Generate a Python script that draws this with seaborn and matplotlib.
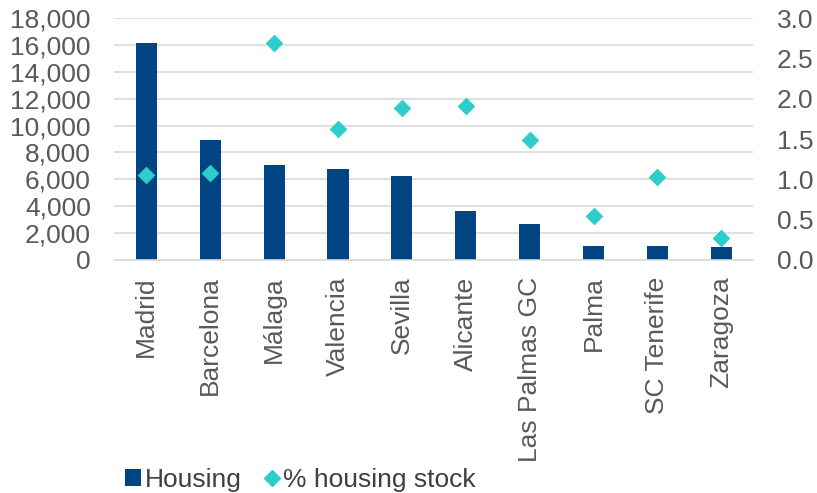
import numpy as np
import pandas as pd
import matplotlib
matplotlib.use('Agg')
import matplotlib.pyplot as plt
from matplotlib.lines import Line2D
from matplotlib.patches import Patch
import seaborn as sns

cities = ['Madrid', 'Barcelona', 'Málaga', 'Valencia', 'Sevilla', 'Alicante',
          'Las Palmas GC', 'Palma', 'SC Tenerife', 'Zaragoza']
housing = [16150, 8900, 7080, 6780, 6220, 3640, 2680, 1060, 1060, 960]
pct_stock = [1.05, 1.08, 2.69, 1.62, 1.88, 1.91, 1.49, 0.54, 1.03, 0.27]

df = pd.DataFrame({'city': cities, 'housing': housing, 'pct': pct_stock})

bar_color = '#004481'
dot_color = '#2DCCCD'
text_color = '#595959'
legend_text = '#3A3F4A'
grid_color = '#D9D9D9'
fsize = 19

sns.set_style('white')
plt.rcParams['font.family'] = ['Liberation Sans', 'DejaVu Sans']

fig, ax = plt.subplots(figsize=(8.17, 4.93), dpi=100)
fig.subplots_adjust(left=0.14, right=0.922, top=0.963, bottom=0.473)

sns.barplot(data=df, x='city', y='housing', color=bar_color, width=0.33,
            saturation=1, linewidth=0, ax=ax, zorder=2)
ax.set_ylim(0, 18000)
ax.set_yticks(np.arange(0, 18001, 2000))
ax.set_yticklabels([f'{v:,}' for v in range(0, 18001, 2000)])
ax.yaxis.grid(True, color=grid_color, linewidth=1.2, zorder=0)
ax.set_axisbelow(True)
ax.set_xlim(-0.5, len(cities) - 0.5)
ax.set_xlabel('')
ax.set_ylabel('')

ax2 = ax.twinx()
sns.stripplot(data=df, x='city', y='pct', color=dot_color, marker='D', size=9,
              jitter=False, ax=ax2, zorder=3)
ax2.set_ylim(0, 3.0)
ax2.set_yticks(np.arange(0, 3.01, 0.5))
ax2.set_yticklabels([f'{v:.1f}' for v in np.arange(0, 3.01, 0.5)])
ax2.set_xlim(-0.5, len(cities) - 0.5)
ax2.set_ylabel('')
ax2.set_xlabel('')

for a in (ax, ax2):
    for s in ('top', 'left', 'right'):
        a.spines[s].set_visible(False)
    a.spines['bottom'].set_color(grid_color)
    a.spines['bottom'].set_linewidth(1.2)
    a.tick_params(axis='y', length=0, labelsize=fsize, labelcolor=text_color)

ax.tick_params(axis='y', pad=17)
ax2.tick_params(axis='y', pad=17)
ax2.spines['bottom'].set_visible(False)

ax.set_xticks(range(len(cities)))
ax.set_xticklabels(cities, rotation=90, fontsize=fsize, color=text_color)
ax.tick_params(axis='x', which='major', length=0, pad=12)
ax.set_xticks(np.arange(-0.5, len(cities), 1.0), minor=True)
ax.tick_params(axis='x', which='minor', length=8, color=grid_color, width=1.2)

handles = [Patch(facecolor=bar_color, edgecolor='none', label='Housing'),
           Line2D([], [], marker='D', color=dot_color, linestyle='none',
                  markersize=8, label='% housing stock')]
leg = fig.legend(handles=handles, loc='center left', bbox_to_anchor=(0.153, 0.027),
                 ncol=2, frameon=False, fontsize=fsize, handlelength=0.62,
                 handleheight=0.62, handletextpad=0.12, columnspacing=0.85,
                 borderpad=0, borderaxespad=0)
for t in leg.get_texts():
    t.set_color(legend_text)

fig.savefig('out.png', dpi=100)
